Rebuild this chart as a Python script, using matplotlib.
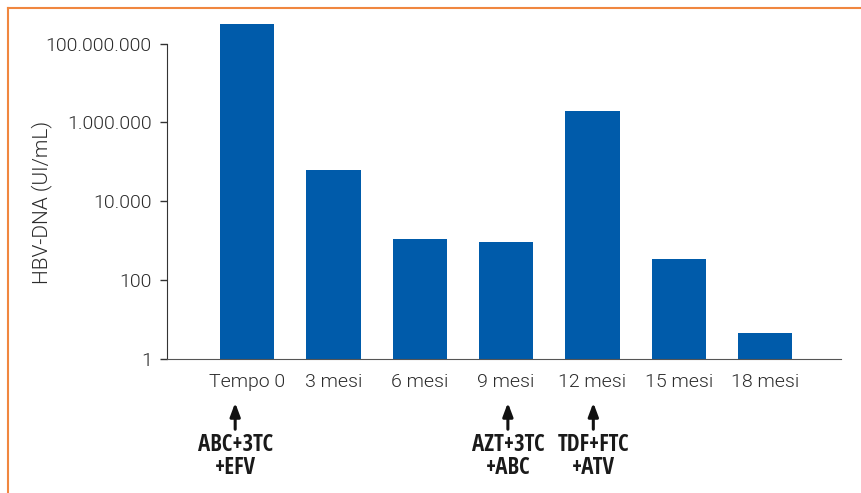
import matplotlib
matplotlib.use("Agg")
import matplotlib.pyplot as plt
from matplotlib.lines import Line2D
from matplotlib.font_manager import FontProperties

categories = ["Tempo 0", "3 mesi", "6 mesi", "9 mesi", "12 mesi", "15 mesi", "18 mesi"]
hbv_dna = [3.2e8, 6.3e4, 1.1e3, 950, 2.0e6, 350, 4.6]
ytick_values = [1, 100, 10000, 1000000, 100000000]
ytick_labels = ["1", "100", "10.000", "1.000.000", "100.000.000"]
therapy_index = [0, 3, 4]
therapy_labels = ["ABC+3TC\n+EFV", "AZT+3TC\n+ABC", "TDF+FTC\n+ATV"]
therapy_offsets = [-0.14, 0.02, 0.01]

light = FontProperties(family='Roboto', weight=300, size=14)
light_lab = FontProperties(family='Roboto', weight=300, size=15)
bold = FontProperties(family='Open Sans Condensed', weight=700, size=16.5)

W, H = 862, 493
fig = plt.figure(figsize=(W/100, H/100), dpi=100)
ax = fig.add_axes([167/W, 1-359/H, (841-167)/W, (359-20)/H])

x = list(range(len(categories)))
ax.bar(x, hbv_dna, width=0.63, color="#005BAA", zorder=2)
ax.set_yscale("log")
ax.set_ylim(1, 10**8.6)
ax.set_xlim(-0.93, 6.88)
ax.set_yticks(ytick_values)
ax.set_yticklabels(ytick_labels, fontproperties=light, color="#2b2b2b")
ax.yaxis.set_minor_locator(matplotlib.ticker.NullLocator())
ax.set_xticks(x)
ax.set_xticklabels(categories, fontproperties=light, color="#2b2b2b")
ax.tick_params(axis='x', length=0, pad=10)
ax.tick_params(axis='y', length=5, width=1, pad=6, color="#333333")
for s in ["top", "right"]:
    ax.spines[s].set_visible(False)
ax.spines["left"].set_bounds(1, 1e8)
ax.spines["left"].set_color("#333333")
ax.spines["bottom"].set_color("#555555")
ax.set_ylabel("HBV-DNA (UI/mL)", fontproperties=light_lab, color="#2b2b2b")
ax.yaxis.set_label_coords(-(167-52)/(841-167), (359-202)/(359-20))

for i, lab, off in zip(therapy_index, therapy_labels, therapy_offsets):
    xd = i + off
    ax.annotate("", xy=(xd, 1 - 400/H), xytext=(xd, 1 - 432/H),
                xycoords=('data', 'figure fraction'), textcoords=('data', 'figure fraction'),
                arrowprops=dict(arrowstyle="-|>,head_length=0.8,head_width=0.3", color="#111111", lw=2.2))
    ax.annotate(lab, xy=(xd, 1 - 433/H), xycoords=('data', 'figure fraction'),
                ha="center", va="top", fontproperties=bold, color="#1a1a1a",
                linespacing=0.95, annotation_clip=False)

# orange frame
fig.add_artist(Line2D([8/W, 1], [1-8/H, 1-8/H], transform=fig.transFigure, color="#F0873F", lw=1.5))
fig.add_artist(Line2D([8/W, 8/W], [0, 1-8/H], transform=fig.transFigure, color="#F0873F", lw=1.5))

fig.savefig("out.png", dpi=100)
